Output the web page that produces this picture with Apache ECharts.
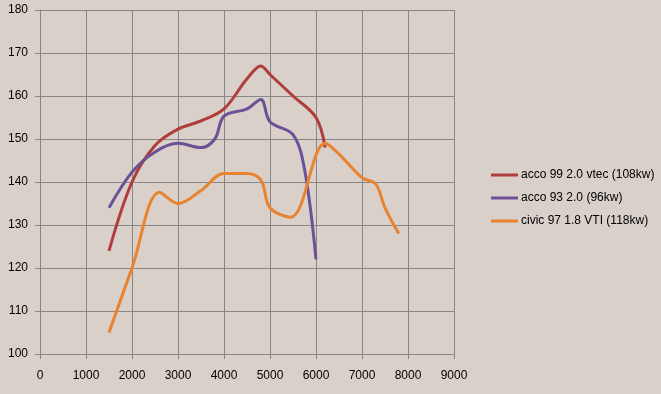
<!DOCTYPE html>
<html>
<head>
<meta charset="utf-8">
<script src="https://cdn.jsdelivr.net/npm/echarts@6/dist/echarts.min.js"></script>
<style>
html,body{margin:0;padding:0;background:#D9D0CA;}
#c{width:661px;height:394px;}
</style>
</head>
<body>
<div id="c"></div>
<script>
var seriesNames = ['acco 99 2.0 vtec (108kw)', 'acco 93 2.0 (96kw)', 'civic 97 1.8 VTI (118kw)'];
var acco99 = [[1500,124],[2000,140],[2500,148.5],[3000,152.3],[3500,154.2],[4000,157],[4500,164],[4800,167],[5000,165],[5500,160],[6000,155],[6200,148]];
var acco93 = [[1500,134],[2000,142.3],[2500,147],[3000,149],[3500,148],[3800,150],[4000,155.3],[4500,157],[4800,159.2],[5000,154],[5500,151],[5750,143],[6000,122]];
var civic97 = [[1500,105],[2000,120],[2600,137.6],[3000,135],[3500,138],[4000,142],[4500,142],[4800,140.5],[5000,134],[5450,131.8],[6200,149],[6500,146.5],[7000,141],[7300,139.5],[7500,134],[7800,128]];
var xTicks = [0,1000,2000,3000,4000,5000,6000,7000,8000,9000];
var yTicks = [100,110,120,130,140,150,160,170,180];
var colors = ['#AE3D3B', '#6E5096', '#E8832F'];

var chart = echarts.init(document.getElementById('c'));
var gridColor = '#878787';
var font = 'Liberation Sans';
function mk(name, data, color){
  return {name:name, type:'line', data:data, smooth:0.35, showSymbol:false, symbol:'none',
    lineStyle:{color:color, width:3}, itemStyle:{color:color}, animation:false};
}
chart.setOption({
  backgroundColor:'#D9D0CA',
  animation:false,
  grid:{left:40, top:10, width:414, height:344},
  legend:{orient:'vertical', left:486, top:164, itemWidth:27, itemHeight:3, itemGap:11,
    icon:'rect', textStyle:{fontFamily:font, fontSize:12, color:'#000', padding:[0,0,0,-2]},
    data:seriesNames},
  xAxis:{type:'value', min:xTicks[0], max:xTicks[xTicks.length-1], interval:1000,
    axisLine:{show:true, lineStyle:{color:gridColor, width:1}},
    axisTick:{show:true, length:5, lineStyle:{color:gridColor}},
    axisLabel:{fontFamily:font, fontSize:12, color:'#000', margin:16, formatter:function(v){return String(v);}},
    splitLine:{show:true, lineStyle:{color:gridColor, width:1}}},
  yAxis:{type:'value', min:yTicks[0], max:yTicks[yTicks.length-1], interval:10,
    axisLine:{show:true, lineStyle:{color:gridColor, width:1}},
    axisTick:{show:true, length:5, lineStyle:{color:gridColor}},
    axisLabel:{fontFamily:font, fontSize:12, color:'#000', margin:12},
    splitLine:{show:true, lineStyle:{color:gridColor, width:1}}},
  series:[mk(seriesNames[0], acco99, colors[0]), mk(seriesNames[1], acco93, colors[1]), mk(seriesNames[2], civic97, colors[2])]
});
</script>
</body>
</html>
